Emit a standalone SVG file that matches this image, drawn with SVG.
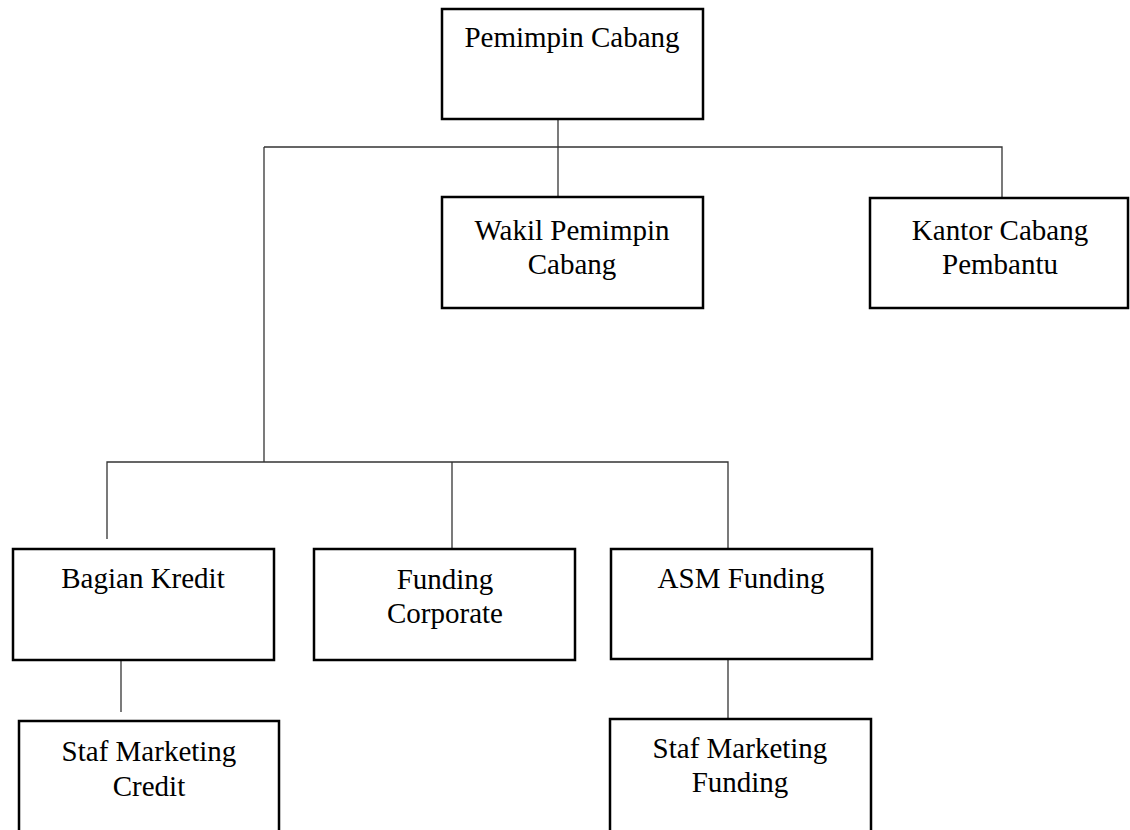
<svg xmlns="http://www.w3.org/2000/svg" width="1130" height="830" viewBox="0 0 1130 830">
<style>
.box{fill:#fff;stroke:#000;stroke-width:2.5}
.t{font-family:"Liberation Serif","Times New Roman",serif;font-size:29px;fill:#000;text-anchor:middle}
.c{stroke:#333;stroke-width:1.3;fill:none}
</style>
<rect width="1130" height="830" fill="#fff"/>
<g id="connectors">
<path class="c" d="M558 119V197"/>
<path class="c" d="M264 147H1002V198"/>
<path class="c" d="M264 147V462"/>
<path class="c" d="M107 539V462H728V549"/>
<path class="c" d="M452 462V549"/>
<path class="c" d="M121 653V712"/>
<path class="c" d="M728 659V719"/>
</g>
<g id="pemimpin">
<rect class="box" x="442" y="9" width="261" height="110"/>
<text class="t" x="572" y="47">Pemimpin Cabang</text>
</g>
<g id="wakil">
<rect class="box" x="442" y="197" width="261" height="111"/>
<text class="t" x="572" y="240">Wakil Pemimpin</text>
<text class="t" x="572" y="274">Cabang</text>
</g>
<g id="kantor">
<rect class="box" x="870" y="198" width="258" height="110"/>
<text class="t" x="1000" y="240">Kantor Cabang</text>
<text class="t" x="1000" y="274">Pembantu</text>
</g>
<g id="bagian">
<rect class="box" x="13" y="549" width="261" height="111"/>
<text class="t" x="143" y="588">Bagian Kredit</text>
</g>
<g id="funding-corporate">
<rect class="box" x="314" y="549" width="261" height="111"/>
<text class="t" x="445" y="589">Funding</text>
<text class="t" x="445" y="623">Corporate</text>
</g>
<g id="asm">
<rect class="box" x="611" y="549" width="261" height="110"/>
<text class="t" x="741" y="588">ASM Funding</text>
</g>
<g id="staf-credit">
<rect class="box" x="19" y="721" width="260" height="120"/>
<text class="t" x="149" y="761">Staf Marketing</text>
<text class="t" x="149" y="796">Credit</text>
</g>
<g id="staf-funding">
<rect class="box" x="610" y="719" width="261" height="120"/>
<text class="t" x="740" y="758">Staf Marketing</text>
<text class="t" x="740" y="792">Funding</text>
</g>
</svg>
